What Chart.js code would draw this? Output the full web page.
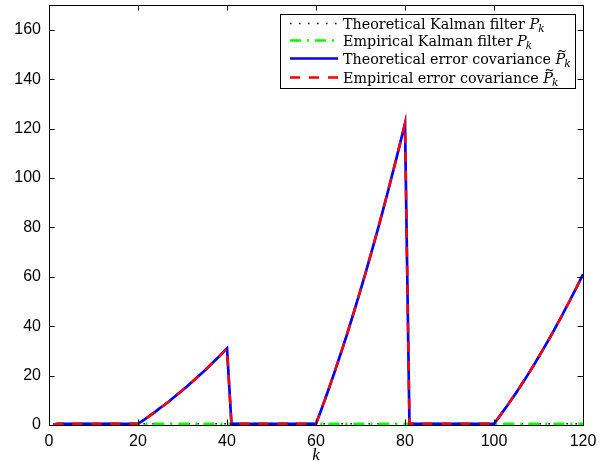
<!DOCTYPE html>
<html>
<head>
<meta charset="utf-8">
<script src="https://cdn.jsdelivr.net/npm/chart.js@4/dist/chart.umd.min.js"></script>
<style>html, body { margin: 0; background: #fff; }</style>
</head>
<body>
<canvas id="chart" width="608" height="462"></canvas>
<script>
// time steps k = 1..120
const kValues = Array.from({ length: 120 }, (_, i) => i + 1);

const theoKalman = [
    0.2, 0.5, 0.5, 0.5, 0.5, 0.5, 0.5, 0.5, 0.5, 0.5, 0.5, 0.5, 0.5, 0.5, 0.5, 0.5, 0.5, 0.5, 0.5, 0.5,
    0.5, 0.5, 0.5, 0.5, 0.5, 0.5, 0.5, 0.5, 0.5, 0.5, 0.5, 0.5, 0.5, 0.5, 0.5, 0.5, 0.5, 0.5, 0.5, 0.5,
    0.5, 0.5, 0.5, 0.5, 0.5, 0.5, 0.5, 0.5, 0.5, 0.5, 0.5, 0.5, 0.5, 0.5, 0.5, 0.5, 0.5, 0.5, 0.5, 0.5,
    0.5, 0.5, 0.5, 0.5, 0.5, 0.5, 0.5, 0.5, 0.5, 0.5, 0.5, 0.5, 0.5, 0.5, 0.5, 0.5, 0.5, 0.5, 0.5, 0.5,
    0.5, 0.5, 0.5, 0.5, 0.5, 0.5, 0.5, 0.5, 0.5, 0.5, 0.5, 0.5, 0.5, 0.5, 0.5, 0.5, 0.5, 0.5, 0.5, 0.5,
    0.5, 0.5, 0.5, 0.5, 0.5, 0.5, 0.5, 0.5, 0.5, 0.5, 0.5, 0.5, 0.5, 0.5, 0.5, 0.5, 0.5, 0.5, 0.5, 0.5
];
const empKalman = [
    0.2, 0.5, 0.5, 0.5, 0.5, 0.5, 0.5, 0.5, 0.5, 0.5, 0.5, 0.5, 0.5, 0.5, 0.5, 0.5, 0.5, 0.5, 0.5, 0.5,
    0.5, 0.5, 0.5, 0.5, 0.5, 0.5, 0.5, 0.5, 0.5, 0.5, 0.5, 0.5, 0.5, 0.5, 0.5, 0.5, 0.5, 0.5, 0.5, 0.5,
    0.5, 0.5, 0.5, 0.5, 0.5, 0.5, 0.5, 0.5, 0.5, 0.5, 0.5, 0.5, 0.5, 0.5, 0.5, 0.5, 0.5, 0.5, 0.5, 0.5,
    0.5, 0.5, 0.5, 0.5, 0.5, 0.5, 0.5, 0.5, 0.5, 0.5, 0.5, 0.5, 0.5, 0.5, 0.5, 0.5, 0.5, 0.5, 0.5, 0.5,
    0.5, 0.5, 0.5, 0.5, 0.5, 0.5, 0.5, 0.5, 0.5, 0.5, 0.5, 0.5, 0.5, 0.5, 0.5, 0.5, 0.5, 0.5, 0.5, 0.5,
    0.5, 0.5, 0.5, 0.5, 0.5, 0.5, 0.5, 0.5, 0.5, 0.5, 0.5, 0.5, 0.5, 0.5, 0.5, 0.5, 0.5, 0.5, 0.5, 0.5
];
const theoErrCov = [
    0.2, 0.5, 0.5, 0.5, 0.5, 0.5, 0.5, 0.5, 0.5, 0.5, 0.5, 0.5, 0.5, 0.5, 0.5, 0.5, 0.5, 0.5, 0.5, 0.5,
    1.7, 2.9, 4.2, 5.5, 6.9, 8.2, 9.6, 11.1, 12.6, 14.1, 15.6, 17.2, 18.8, 20.4, 22.1, 23.8, 25.6, 27.3, 29.2, 31,
    0.5, 0.5, 0.5, 0.5, 0.5, 0.5, 0.5, 0.5, 0.5, 0.5, 0.5, 0.5, 0.5, 0.5, 0.5, 0.5, 0.5, 0.5, 0.5, 0.5,
    5.3, 10.2, 15.3, 20.5, 25.9, 31.3, 36.9, 42.7, 48.6, 54.6, 60.7, 67.0, 73.4, 79.9, 86.6, 93.4, 100.4, 107.4, 114.7, 122,
    0.5, 0.5, 0.5, 0.5, 0.5, 0.5, 0.5, 0.5, 0.5, 0.5, 0.5, 0.5, 0.5, 0.5, 0.5, 0.5, 0.5, 0.5, 0.5, 0.5,
    2.9, 5.4, 7.9, 10.5, 13.1, 15.9, 18.6, 21.5, 24.4, 27.4, 30.5, 33.6, 36.8, 40.1, 43.4, 46.8, 50.2, 53.8, 57.3, 61
];
const empErrCov = [
    0.2, 0.5, 0.5, 0.5, 0.5, 0.5, 0.5, 0.5, 0.5, 0.5, 0.5, 0.5, 0.5, 0.5, 0.5, 0.5, 0.5, 0.5, 0.5, 0.5,
    1.7, 2.9, 4.2, 5.5, 6.9, 8.2, 9.6, 11.1, 12.6, 14.1, 15.6, 17.2, 18.8, 20.4, 22.1, 23.8, 25.6, 27.3, 29.2, 31,
    0.5, 0.5, 0.5, 0.5, 0.5, 0.5, 0.5, 0.5, 0.5, 0.5, 0.5, 0.5, 0.5, 0.5, 0.5, 0.5, 0.5, 0.5, 0.5, 0.5,
    5.3, 10.2, 15.3, 20.5, 25.9, 31.3, 36.9, 42.7, 48.6, 54.6, 60.7, 67.0, 73.4, 79.9, 86.6, 93.4, 100.4, 107.4, 114.7, 122,
    0.5, 0.5, 0.5, 0.5, 0.5, 0.5, 0.5, 0.5, 0.5, 0.5, 0.5, 0.5, 0.5, 0.5, 0.5, 0.5, 0.5, 0.5, 0.5, 0.5,
    2.9, 5.4, 7.9, 10.5, 13.1, 15.9, 18.6, 21.5, 24.4, 27.4, 30.5, 33.6, 36.8, 40.1, 43.4, 46.8, 50.2, 53.8, 57.3, 61
];

const xTicks = [0, 20, 40, 60, 80, 100, 120];
const yTicks = [0, 20, 40, 60, 80, 100, 120, 140, 160];

const seriesNames = ['Theoretical Kalman filter', 'Empirical Kalman filter',
    'Theoretical error covariance', 'Empirical error covariance'];
const seriesTilde = [false, false, true, true];

const toPoints = arr => arr.map((v, i) => ({ x: kValues[i], y: v }));

// frame + inward ticks on all four sides, like matlab's "box on"
const framePlugin = {
    id: 'frame',
    afterDatasetsDraw(chart) {
        const { ctx, chartArea: a, scales: { x, y } } = chart;
        const len = 5.5;
        ctx.save();
        ctx.strokeStyle = '#000';
        ctx.lineWidth = 1;
        ctx.beginPath();
        xTicks.forEach(v => {
            const px = Math.round(x.getPixelForValue(v)) + 0.5;
            ctx.moveTo(px, a.bottom); ctx.lineTo(px, a.bottom - len);
            ctx.moveTo(px, a.top); ctx.lineTo(px, a.top + len);
        });
        yTicks.forEach(v => {
            const py = Math.round(y.getPixelForValue(v)) + 0.5;
            ctx.moveTo(a.left, py); ctx.lineTo(a.left + len, py);
            ctx.moveTo(a.right, py); ctx.lineTo(a.right - len, py);
        });
        ctx.stroke();
        ctx.strokeRect(Math.round(a.left) + 0.5, Math.round(a.top) + 0.5,
            Math.round(a.right - a.left), Math.round(a.bottom - a.top));
        // x axis label
        ctx.fillStyle = '#000';
        ctx.font = 'italic 17px "Liberation Serif"';
        ctx.textAlign = 'center';
        ctx.fillText('k', (a.left + a.right) / 2, 460);
        ctx.restore();
    }
};

// boxed legend in the upper right corner
const legendPlugin = {
    id: 'boxLegend',
    afterDraw(chart) {
        const ctx = chart.ctx;
        const box = { left: 280.5, top: 14.5, right: 575.5, bottom: 88.5 };
        const rows = [23.5, 40.5, 58.5, 77.5];
        const serif = '"DejaVu Serif"';
        ctx.save();
        ctx.fillStyle = '#fff';
        ctx.fillRect(box.left, box.top, box.right - box.left, box.bottom - box.top);
        ctx.strokeStyle = '#000';
        ctx.lineWidth = 1;
        ctx.strokeRect(box.left, box.top, box.right - box.left, box.bottom - box.top);
        chart.data.datasets.forEach((ds, i) => {
            const ry = rows[i];
            ctx.save();
            ctx.strokeStyle = ds.borderColor;
            ctx.lineWidth = ds.borderWidth;
            ctx.setLineDash(ds.borderDash || []);
            ctx.beginPath();
            ctx.moveTo(290, ry);
            ctx.lineTo(338, ry);
            ctx.stroke();
            ctx.restore();

            const base = ry + 5;
            let tx = 343;
            ctx.fillStyle = '#000';
            ctx.textAlign = 'left';
            ctx.font = '14.3px ' + serif;
            const txt = seriesNames[i] + ' ';
            ctx.fillText(txt, tx, base);
            tx += ctx.measureText(txt).width;
            ctx.font = 'italic 14.5px ' + serif;
            ctx.fillText('P', tx, base);
            const pw = ctx.measureText('P').width;
            if (seriesTilde[i]) {
                ctx.font = '12px ' + serif;
                ctx.textAlign = 'center';
                ctx.fillText('~', tx + pw / 2 + 1.5, base - 8.5);
                ctx.textAlign = 'left';
            }
            ctx.font = 'italic 10.5px ' + serif;
            ctx.fillText('k', tx + pw - 1, base + 3);
        });
        ctx.restore();
    }
};

const tickFont = { family: '"Liberation Sans", Arial, sans-serif', size: 16 };

new Chart(document.getElementById('chart').getContext('2d'), {
    type: 'line',
    data: {
        datasets: [{
            label: 'Theoretical Kalman filter P_k',
            data: toPoints(theoKalman),
            borderColor: '#000000',
            borderWidth: 1.5,
            borderDash: [1.5, 7.5],
            order: 3
        }, {
            label: 'Empirical Kalman filter P_k',
            data: toPoints(empKalman),
            borderColor: '#00ff00',
            borderWidth: 2.5,
            borderDash: [11, 6, 2, 6],
            order: 2
        }, {
            label: 'Theoretical error covariance P~_k',
            data: toPoints(theoErrCov),
            borderColor: '#0000ff',
            borderWidth: 2.7,
            order: 1
        }, {
            label: 'Empirical error covariance P~_k',
            data: toPoints(empErrCov),
            borderColor: '#ff0000',
            borderWidth: 2.5,
            borderDash: [10, 9],
            order: 0
        }]
    },
    options: {
        responsive: false,
        animation: false,
        elements: { point: { radius: 0 }, line: { tension: 0, fill: false } },
        layout: { padding: { top: 5, right: 25, left: 0, bottom: 0 } },
        plugins: { legend: { display: false }, tooltip: { enabled: false } },
        scales: {
            x: {
                type: 'linear',
                min: 0,
                max: 120,
                afterBuildTicks: s => { s.ticks = xTicks.map(v => ({ value: v })); },
                afterFit: s => { s.height = 37; s.paddingLeft = 0; s.paddingRight = 0; },
                grid: { display: false, drawTicks: false },
                border: { display: false },
                ticks: { padding: 7, color: '#000', font: tickFont, maxRotation: 0 }
            },
            y: {
                min: 0,
                max: 170,
                afterBuildTicks: s => { s.ticks = yTicks.map(v => ({ value: v })); },
                afterFit: s => { s.width = 49; s.paddingTop = 0; s.paddingBottom = 0; },
                grid: { display: false, drawTicks: false },
                border: { display: false },
                ticks: { padding: 8, color: '#000', font: tickFont }
            }
        }
    },
    plugins: [framePlugin, legendPlugin]
});
</script>
</body>
</html>
